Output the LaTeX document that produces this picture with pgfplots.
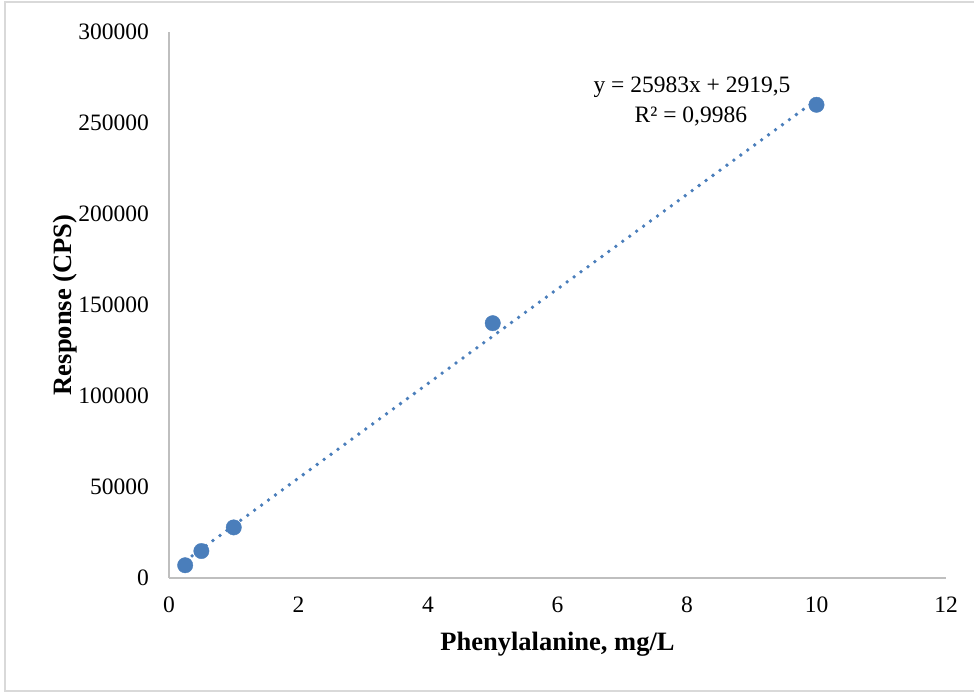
\documentclass[border=0pt]{standalone}
\usepackage{fontspec}
\setmainfont{Liberation Serif}
\usepackage{pgfplots}
\pgfplotsset{compat=1.18}
\definecolor{ptblue}{RGB}{74,126,187}
\definecolor{axgray}{RGB}{191,191,191}
\definecolor{framegray}{RGB}{217,217,217}
\begin{document}
\begin{tikzpicture}[x=1pt,y=1pt]
\useasboundingbox (0,0) rectangle (974,693);
% chart frame (open on the right edge)
\draw[framegray, line width=1.5pt] (974,691) -- (5,691) -- (5,2) -- (974,2);
\begin{axis}[
  at={(169pt,115pt)}, anchor=south west,
  scale only axis, width=777pt, height=546pt,
  xmin=0, xmax=12, ymin=0, ymax=300000,
  xtick={0,2,4,6,8,10,12}, xticklabels={0,2,4,6,8,10,12},
  ytick={0,50000,100000,150000,200000,250000,300000},
  yticklabels={0,50000,100000,150000,200000,250000,300000},
  axis lines=left, axis line style={-, axgray, line width=1.3pt},
  major tick length=0pt,
  scaled y ticks=false,
  tick label style={font=\fontsize{23.5}{28}\selectfont, text=black, inner sep=0pt},
  yticklabel style={anchor=east, xshift=-20pt},
  xticklabel style={anchor=north, yshift=-19pt},
  xlabel={Phenylalanine, mg/L}, ylabel={Response (CPS)},
  label style={font=\bfseries\fontsize{26.5}{30}\selectfont},
  xlabel style={at={(axis description cs:0.5,-0.1337)}, anchor=base},
  ylabel style={at={(axis description cs:-0.1261,0.5)}, anchor=base},
  clip=false,
]
% linear trendline y = 25983x + 2919.5 over the calibration range
\addplot[ptblue, line width=3.8pt, line cap=round, dash pattern=on 0pt off 8.6pt]
  coordinates {(0.25,9415.25) (10,262749.5)};
% calibration standards
\addplot[only marks, mark=*, mark size=7.7pt, ptblue, mark options={fill=ptblue}]
  coordinates {(0.25,7000) (0.5,14800) (1,27800) (5,140000) (10,260000)};
\node[anchor=base, font=\fontsize{23.5}{28}\selectfont] at (axis cs:8.077,266500) {y = 25983x + 2919,5};
\node[anchor=base, font=\fontsize{23.5}{28}\selectfont] at (axis cs:8.06,250200) {R² = 0,9986};
\end{axis}
\end{tikzpicture}
\end{document}
